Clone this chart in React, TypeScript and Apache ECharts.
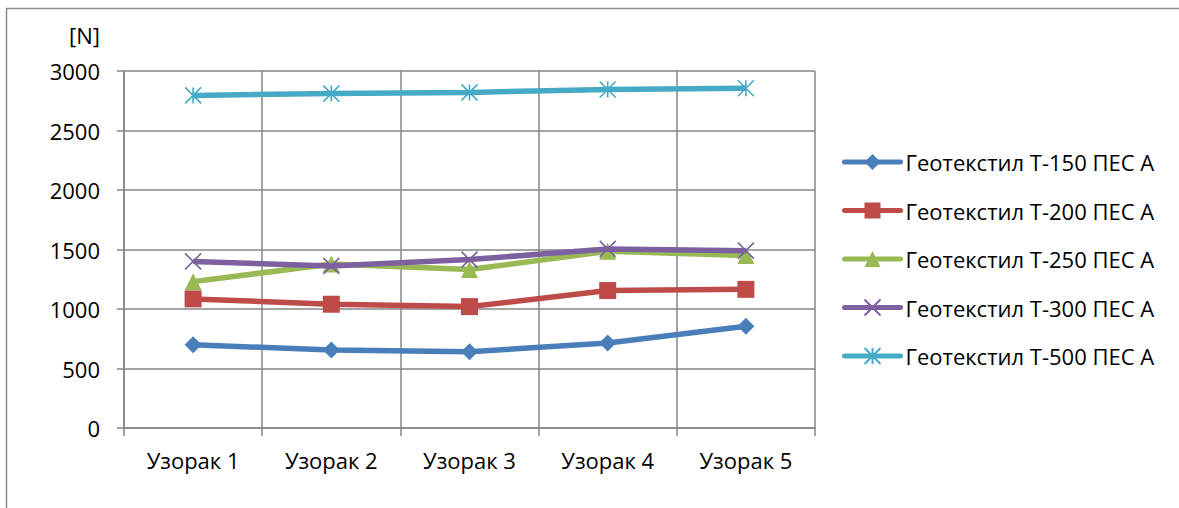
import React, { useEffect, useRef } from "react";
import * as echarts from "echarts";

const categories = ["Узорак 1", "Узорак 2", "Узорак 3", "Узорак 4", "Узорак 5"];
const t150 = [700, 655, 640, 715, 855];
const t200 = [1085, 1040, 1020, 1155, 1165];
const t250 = [1230, 1378, 1332, 1485, 1450];
const t300 = [1400, 1362, 1415, 1505, 1490];
const t500 = [2795, 2810, 2820, 2845, 2855];
const seriesNames = [
  "Геотекстил Т-150 ПЕС А",
  "Геотекстил Т-200 ПЕС А",
  "Геотекстил Т-250 ПЕС А",
  "Геотекстил Т-300 ПЕС А",
  "Геотекстил Т-500 ПЕС А",
];
const colors = ["#4a7ebb", "#be4b48", "#98b954", "#7d60a0", "#46aac5"];
const yTicks = [0, 500, 1000, 1500, 2000, 2500, 3000];

const FONT = "Open Sans";
const FS = 22;

export default function App() {
  const ref = useRef<HTMLDivElement>(null);
  useEffect(() => {
    if (!ref.current) return;
    const chart = echarts.init(ref.current, null, { renderer: "svg" });
    const data = [t150, t200, t250, t300, t500];
    const symbols = [
      "diamond",
      "rect",
      "triangle",
      "path://M0,0L10,10M10,0L0,10",
      "path://M5,0L5,10M0,0L10,10M10,0L0,10",
    ];
    const sizes = [17, 17, 17, 16, 16];
    const series = data.map((d, i) => ({
      name: seriesNames[i],
      type: "line",
      data: d,
      symbol: symbols[i],
      symbolSize: sizes[i],
      showAllSymbol: true,
      lineStyle: { color: colors[i], width: 5.5 },
      itemStyle:
        i >= 3
          ? { color: "rgba(0,0,0,0)", borderColor: colors[i], borderWidth: 1.6 }
          : { color: colors[i], borderWidth: 0 },
      emphasis: { disabled: true },
      z: 2 + i,
    }));
    chart.setOption({
      animation: false,
      textStyle: { fontFamily: FONT },
      grid: { left: 124, right: 1179 - 815, top: 71, bottom: 508 - 428, containLabel: false },
      legend: {
        orient: "vertical",
        left: 837,
        top: 146,
        itemWidth: 56,
        itemHeight: 20,
        itemGap: 26.5,
        data: seriesNames,
        lineStyle: { width: 5, cap: "round" },
        textStyle: { fontFamily: FONT, fontSize: FS, color: "#000" },
      },
      graphic: [
        {
          type: "rect",
          shape: { x: 6.5, y: 8.5, width: 1400, height: 800 },
          style: { fill: "none", stroke: "#8c8c8c", lineWidth: 1.5 },
          silent: true,
        },
        {
          type: "text",
          x: 100,
          y: 35,
          style: {
            text: "[N]",
            fontFamily: FONT,
            fontSize: FS,
            fill: "#000",
            align: "right",
            verticalAlign: "middle",
          },
        },
      ],
      xAxis: {
        type: "category",
        data: categories,
        boundaryGap: true,
        axisLine: { lineStyle: { color: "#868686", width: 1.5 } },
        axisTick: { show: true, length: 8, lineStyle: { color: "#868686", width: 1.5 } },
        axisLabel: { color: "#000", fontSize: FS, fontFamily: FONT, margin: 21 },
        splitLine: { show: true, lineStyle: { color: "#868686", width: 1.5 } },
      },
      yAxis: {
        type: "value",
        min: yTicks[0],
        max: yTicks[yTicks.length - 1],
        interval: 500,
        axisLine: { show: true, lineStyle: { color: "#868686", width: 1.5 } },
        axisTick: { show: true, length: 7, lineStyle: { color: "#868686", width: 1.5 } },
        axisLabel: {
          color: "#000",
          fontSize: FS,
          fontFamily: FONT,
          margin: 24,
          formatter: (v: number) => String(v),
        },
        splitLine: { show: true, lineStyle: { color: "#868686", width: 1.5 } },
      },
      series,
    });
    return () => chart.dispose();
  }, []);
  return (
    <div
      ref={ref}
      style={{ position: "fixed", left: 0, top: 0, width: 1179, height: 508, background: "#fff" }}
    />
  );
}
